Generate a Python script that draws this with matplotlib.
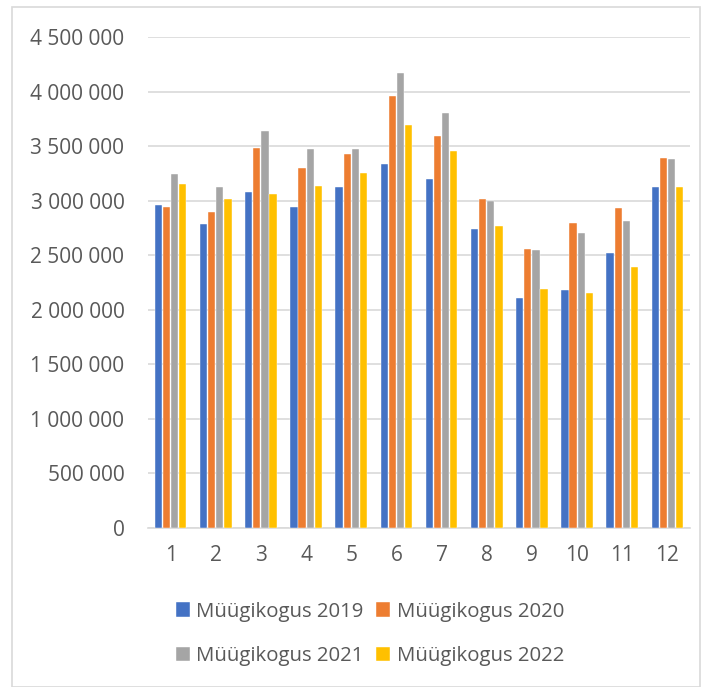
import numpy as np
import matplotlib
matplotlib.use("Agg")
import matplotlib.pyplot as plt
from matplotlib.patches import Rectangle
from matplotlib.ticker import FuncFormatter, MultipleLocator

months = [str(m) for m in range(1, 13)]
series_names = ["Müügikogus 2019", "Müügikogus 2020", "Müügikogus 2021", "Müügikogus 2022"]

sales_2019 = [2958000, 2789000, 3077000, 2939000, 3128000, 3334000,
              3199000, 2743000, 2107000, 2178000, 2517000, 3123000]
sales_2020 = [2942000, 2899000, 3483000, 3297000, 3428000, 3963000,
              3591000, 3018000, 2560000, 2795000, 2933000, 3395000]
sales_2021 = [3242000, 3128000, 3642000, 3471000, 3474000, 4174000,
              3807000, 2995000, 2550000, 2701000, 2814000, 3385000]
sales_2022 = [3150000, 3013000, 3059000, 3132000, 3254000, 3697000,
              3456000, 2768000, 2187000, 2150000, 2392000, 3123000]

colors = ["#4472C4", "#ED7D31", "#A5A5A5", "#FFC000"]
text_col = "#595959"

plt.rcParams['font.family'] = ['Open Sans', 'DejaVu Sans']

fig = plt.figure(figsize=(7.04, 6.87), dpi=100)
ax = fig.add_axes([148/704, 1 - 528/687, (690-148)/704, (528-37)/687])

x = np.arange(len(months))
step = 0.18
width = 0.16
all_series = [sales_2019, sales_2020, sales_2021, sales_2022]
handles = []
for i, (vals, name, c) in enumerate(zip(all_series, series_names, colors)):
    b = ax.bar(x + (i - 1.5) * step, vals, width=width, color=c, label=name,
               edgecolor="white", linewidth=0.3, zorder=3)
    handles.append(b)

ax.set_xlim(-0.5, 11.5)
ax.set_ylim(0, 4500000)
ax.yaxis.set_major_locator(MultipleLocator(500000))
ax.yaxis.set_major_formatter(FuncFormatter(lambda v, p: f"{v:,.0f}".replace(",", " ")))
ax.set_xticks(x)
ax.set_xticklabels(months)
ax.grid(axis="y", color="#D9D9D9", linewidth=1.2, zorder=0)
for s in ["top", "right", "left"]:
    ax.spines[s].set_visible(False)
ax.spines["bottom"].set_color("#D9D9D9")
ax.spines["bottom"].set_linewidth(1.2)
ax.tick_params(axis="both", length=0, labelsize=15, colors=text_col)
ax.tick_params(axis="y", pad=17)
ax.tick_params(axis="x", pad=12)

# legend fills column-wise, so reorder to get 2019/2020 on the first row
order = [0, 2, 1, 3]
leg = fig.legend([handles[k] for k in order], [series_names[k] for k in order],
                 loc="center", bbox_to_anchor=(370/704, 1 - 634/687), ncol=2,
                 frameon=False, fontsize=14.7, handlelength=0.7, handleheight=0.7,
                 handletextpad=0.3, columnspacing=0.6, labelspacing=1.2)
for t in leg.get_texts():
    t.set_color(text_col)

fig.patches.append(Rectangle((12/704, 0), (700-12)/704, 1 - 7/687,
                             transform=fig.transFigure, fill=False,
                             edgecolor="#D9D9D9", linewidth=1.2))

fig.savefig("out.png", dpi=100)
